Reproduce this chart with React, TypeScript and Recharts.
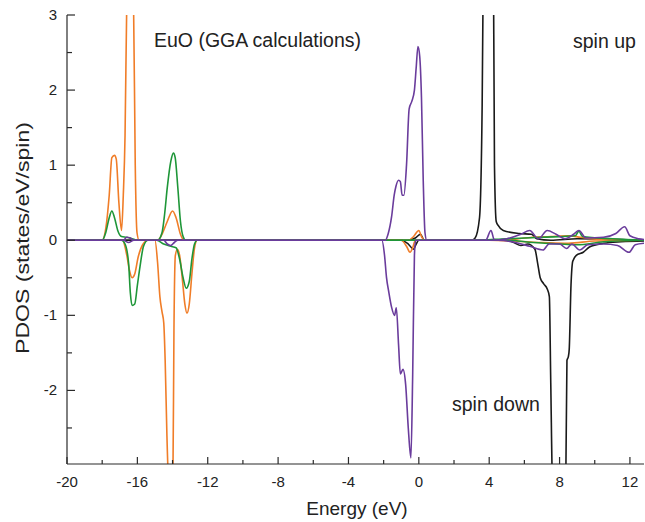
import { Line, LineChart, XAxis, YAxis } from "recharts";

type Pt = [number, number];

const xTicks = [-20, -18, -16, -14, -12, -10, -8, -6, -4, -2, 0, 2, 4, 6, 8, 10, 12];
const yTicks = [-2.5, -2, -1.5, -1, -0.5, 0, 0.5, 1, 1.5, 2, 2.5, 3];

const orangeUp: Pt[] = [
  [-20, 0], [-18, 0], [-17.8, 0.15], [-17.6, 0.6], [-17.45, 1.1], [-17.3, 1.13], [-17.2, 1.08],
  [-17.05, 0.5], [-16.9, 0.13], [-16.8, 0.6], [-16.7, 1.4], [-16.6, 3.2], [-16.42, 4.2],
  [-16.22, 3.2], [-16.12, 1.0], [-16.02, 0.1], [-15.9, 0], [-14.85, 0], [-14.6, 0.08],
  [-14.3, 0.25], [-14.0, 0.39], [-13.8, 0.3], [-13.55, 0.08], [-13.35, 0], [-0.6, 0],
  [-0.3, 0.05], [0.0, 0.13], [0.15, 0.05], [0.3, 0], [5, 0], [6, 0.03], [7.5, 0.05],
  [8.5, 0.06], [9.2, 0.04], [10.5, 0.01], [12.8, 0],
];

const orangeDown: Pt[] = [
  [-20, 0], [-16.85, 0], [-16.6, -0.2], [-16.45, -0.4], [-16.3, -0.5], [-16.15, -0.45],
  [-15.95, -0.22], [-15.7, -0.06], [-15.4, 0], [-15.0, 0], [-14.85, -0.3], [-14.72, -0.75],
  [-14.6, -0.95], [-14.5, -1.1], [-14.42, -1.6], [-14.32, -2.6], [-14.2, -3.4], [-14.08, -3.6],
  [-13.98, -3.2], [-13.92, -1.2], [-13.84, -0.2], [-13.72, -0.12], [-13.6, -0.2], [-13.45, -0.5],
  [-13.3, -0.85], [-13.18, -0.97], [-13.05, -0.85], [-12.9, -0.45], [-12.75, -0.1], [-12.6, 0],
  [-1.0, 0], [-0.7, -0.08], [-0.5, -0.16], [-0.35, -0.1], [-0.2, 0], [4, 0], [7, -0.03],
  [8.5, -0.04], [10, -0.01], [12.8, 0],
];

const greenUp: Pt[] = [
  [-20, 0], [-18, 0], [-17.8, 0.1], [-17.6, 0.3], [-17.45, 0.39], [-17.3, 0.3], [-17.1, 0.12],
  [-16.9, 0.05], [-16.6, 0.04], [-16.3, 0.02], [-16.0, 0], [-14.85, 0], [-14.6, 0.1],
  [-14.45, 0.35], [-14.3, 0.7], [-14.1, 1.05], [-13.95, 1.16], [-13.85, 1.1], [-13.7, 0.7],
  [-13.55, 0.25], [-13.4, 0.05], [-13.25, 0], [3, 0], [5, 0.02], [7, 0.04], [8.9, 0.06],
  [9.1, 0.12], [9.3, 0.05], [11, 0.02], [12.8, 0],
];

const greenDown: Pt[] = [
  [-20, 0], [-16.9, 0], [-16.7, -0.05], [-16.5, -0.3], [-16.4, -0.7], [-16.3, -0.87],
  [-16.15, -0.85], [-16.0, -0.6], [-15.85, -0.35], [-15.65, -0.08], [-15.4, 0], [-14.9, 0],
  [-14.5, -0.05], [-14.1, -0.08], [-13.8, -0.1], [-13.6, -0.25], [-13.4, -0.5], [-13.22, -0.64],
  [-13.05, -0.55], [-12.9, -0.25], [-12.75, -0.05], [-12.6, 0], [5, 0], [6.5, -0.03],
  [8, -0.05], [9, -0.06], [10.5, -0.02], [12.8, 0],
];

const purpleUp: Pt[] = [
  [-20, 0], [-16.8, 0], [-16.6, 0.04], [-16.4, 0.03], [-16.2, 0], [-1.9, 0], [-1.75, 0.08],
  [-1.55, 0.31], [-1.4, 0.6], [-1.3, 0.72], [-1.15, 0.8], [-1.05, 0.78], [-0.95, 0.6],
  [-0.85, 0.6], [-0.7, 1.0], [-0.55, 1.75], [-0.4, 1.85], [-0.25, 2.0], [-0.15, 2.3],
  [-0.05, 2.58], [0.05, 2.45], [0.15, 1.9], [0.25, 0.8], [0.35, 0.1], [0.45, 0], [3.8, 0],
  [4.1, 0.13], [4.3, 0], [5, 0.02], [5.8, 0.08], [6.3, 0.13], [6.8, 0.02], [7.3, 0.13],
  [7.8, 0.08], [8.3, 0.02], [8.8, 0.08], [9.1, 0.13], [9.5, 0.03], [10.5, 0.04], [11.2, 0.09],
  [11.7, 0.18], [12.0, 0.06], [12.5, 0.02], [12.8, 0.01],
];

const purpleDown: Pt[] = [
  [-20, 0], [-16.8, 0], [-16.5, -0.03], [-16.2, 0], [-14.5, 0], [-14.3, -0.05], [-14.1, -0.07],
  [-13.9, -0.03], [-13.7, 0], [-2.1, 0], [-1.95, -0.2], [-1.84, -0.49], [-1.7, -0.7],
  [-1.55, -0.89], [-1.38, -1.0], [-1.28, -0.9], [-1.15, -1.4], [-1.05, -1.78], [-0.9, -1.72],
  [-0.75, -1.92], [-0.6, -2.5], [-0.45, -2.9], [-0.35, -1.8], [-0.25, -0.2], [-0.18, 0],
  [4.5, 0], [5.5, -0.03], [6.3, -0.08], [7.06, -0.13], [7.4, -0.05], [8.0, -0.05], [8.4, -0.11],
  [8.7, -0.05], [9.15, -0.13], [9.6, -0.06], [10.5, -0.05], [11.3, -0.07], [11.95, -0.16],
  [12.3, -0.06], [12.8, -0.04],
];

const blackUp: Pt[] = [
  [-20, 0], [-0.6, 0], [-0.2, 0.03], [0.1, 0.08], [0.3, 0], [3.0, 0], [3.2, 0.03], [3.45, 0.3],
  [3.6, 1.8], [3.7, 4.5], [3.95, 6], [4.22, 4.5], [4.3, 1.0], [4.4, 0.25], [4.5, 0.2],
  [4.8, 0.13], [5.7, 0.09], [6.4, 0.08], [6.7, 0.02], [7.5, 0], [9, 0.02], [12.8, 0],
];

const blackDown: Pt[] = [
  [-20, 0], [-1.0, 0], [-0.6, -0.05], [-0.3, -0.12], [-0.15, -0.05], [0, 0], [5.0, 0],
  [5.4, -0.03], [5.8, -0.07], [6.2, -0.05], [6.6, -0.12], [6.75, -0.3], [6.9, -0.5],
  [7.1, -0.58], [7.3, -0.65], [7.42, -0.75], [7.5, -1.9], [7.6, -3.3], [8.0, -4.2],
  [8.35, -3.3], [8.42, -1.6], [8.5, -1.55], [8.55, -1.45], [8.65, -0.6], [8.75, -0.28],
  [8.95, -0.2], [9.35, -0.16], [9.7, -0.09], [10.5, -0.04], [11.5, -0.02], [12.8, -0.01],
];

const FONT = "'Liberation Sans', Arial, Helvetica, sans-serif";
const AXIS = "#2a2a2a";
const TEXT = "#222";

const series = [
  { key: "blackUp", pts: blackUp, color: "#1a1a1a" },
  { key: "blackDown", pts: blackDown, color: "#1a1a1a" },
  { key: "orangeUp", pts: orangeUp, color: "#f07d28" },
  { key: "orangeDown", pts: orangeDown, color: "#f07d28" },
  { key: "greenUp", pts: greenUp, color: "#1e9638" },
  { key: "greenDown", pts: greenDown, color: "#1e9638" },
  { key: "purpleUp", pts: purpleUp, color: "#6a3c9c" },
  { key: "purpleDown", pts: purpleDown, color: "#6a3c9c" },
];

function BottomTick(props: any) {
  const { x, y, payload } = props;
  const major = Math.abs(payload.value) % 4 === 0;
  return (
    <g>
      <line x1={x} x2={x} y1={y} y2={y - (major ? 7 : 4)} stroke={AXIS} strokeWidth={1.2} />
      {major && (
        <text x={x} y={y + 23} textAnchor="middle" fontSize={15} fill={TEXT} fontFamily={FONT}>
          {payload.value}
        </text>
      )}
    </g>
  );
}

function TopTick(props: any) {
  const { x, y, payload } = props;
  const major = Math.abs(payload.value) % 4 === 0;
  return <line x1={x} x2={x} y1={y} y2={y + (major ? 6 : 4)} stroke={AXIS} strokeWidth={1.2} />;
}

function LeftTick(props: any) {
  const { x, y, payload } = props;
  const major = Number.isInteger(payload.value);
  return (
    <g>
      <line x1={x} x2={x + (major ? 8 : 5)} y1={y} y2={y} stroke={AXIS} strokeWidth={1.2} />
      {major && (
        <text x={x - 10} y={y + 5} textAnchor="end" fontSize={15} fill={TEXT} fontFamily={FONT}>
          {payload.value}
        </text>
      )}
    </g>
  );
}

export default function App() {
  return (
    <div style={{ position: "absolute", left: 0, top: 0, background: "#fff" }}>
      <LineChart width={645} height={522} margin={{ top: 15, right: 1, bottom: 0, left: 0 }}>
        <XAxis
          dataKey="x"
          type="number"
          domain={[-20, 12.8]}
          allowDataOverflow
          ticks={xTicks}
          interval={0}
          height={58}
          tickSize={0}
          tickMargin={0}
          tickLine={false}
          tick={<BottomTick />}
          axisLine={{ stroke: AXIS, strokeWidth: 1.2 }}
          label={{
            content: () => (
              <text x={357} y={515} textAnchor="middle" fontSize={19} fill={TEXT} fontFamily={FONT}>
                Energy (eV)
              </text>
            ),
          }}
        />
        <XAxis
          xAxisId="top"
          orientation="top"
          dataKey="x"
          type="number"
          domain={[-20, 12.8]}
          allowDataOverflow
          ticks={xTicks}
          interval={0}
          height={0}
          tickSize={0}
          tickMargin={0}
          tickLine={false}
          tick={<TopTick />}
          axisLine={{ stroke: AXIS, strokeWidth: 1.2 }}
        />
        <YAxis
          type="number"
          domain={[-2.98, 3]}
          allowDataOverflow
          ticks={yTicks}
          interval={0}
          width={67}
          tickSize={0}
          tickMargin={0}
          tickLine={false}
          tick={<LeftTick />}
          axisLine={{ stroke: AXIS, strokeWidth: 1.2 }}
          label={{
            content: () => (
              <text
                x={29}
                y={238}
                transform="rotate(-90 29 238)"
                textAnchor="middle"
                fontSize={19}
                textLength={232}
                lengthAdjust="spacingAndGlyphs"
                fill={TEXT}
                fontFamily={FONT}
              >
                PDOS (states/eV/spin)
              </text>
            ),
          }}
        />
        {series.map((s) => (
          <Line
            key={s.key}
            data={s.pts.map(([x, y]) => ({ x, y }))}
            dataKey="y"
            type="monotone"
            stroke={s.color}
            strokeWidth={1.6}
            dot={false}
            activeDot={false}
            isAnimationActive={false}
          />
        ))}
        <text x={154} y={47} fontSize={19.5} fill={TEXT} fontFamily={FONT}>
          EuO (GGA calculations)
        </text>
        <text x={573} y={48} fontSize={19.5} fill={TEXT} fontFamily={FONT}>
          spin up
        </text>
        <text x={452} y={411} fontSize={19.5} fill={TEXT} fontFamily={FONT}>
          spin down
        </text>
      </LineChart>
    </div>
  );
}
